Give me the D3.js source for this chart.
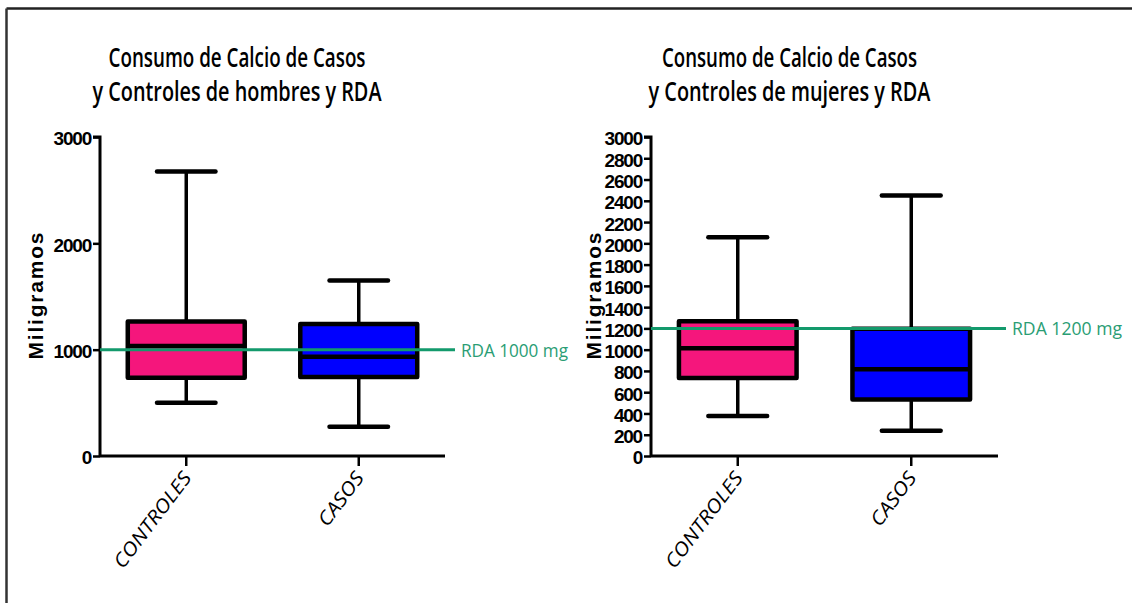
<!DOCTYPE html>
<html>
<head>
<meta charset="utf-8">
<script src="https://cdn.jsdelivr.net/npm/d3@7"></script>
<style>
  html, body { margin: 0; padding: 0; background: #fff; }
  svg { display: block; }
</style>
</head>
<body>
<svg id="chart" width="1132" height="603"></svg>
<script>
// ---- data ----
const groups = ["CONTROLES", "CASOS"];
const titlesHombres = ["Consumo de Calcio de Casos", "y Controles de hombres y RDA"];
const titlesMujeres = ["Consumo de Calcio de Casos", "y Controles de mujeres y RDA"];
const yLabel = "Miligramos";

// hombres
const hMin    = [501, 276];
const hQ1     = [735, 743];
const hMedian = [1035, 934];
const hQ3     = [1265, 1241];
const hMax    = [2675, 1650];
const hRDA = 1000;
const hRDALabel = "RDA 1000 mg";
const hTicks = [0, 1000, 2000, 3000];

// mujeres
const mMin    = [376, 238];
const mQ1     = [734, 532];
const mMedian = [1013, 815];
const mQ3     = [1267, 1197];
const mMax    = [2057, 2449];
const mRDA = 1200;
const mRDALabel = "RDA 1200 mg";
const mTicks = [0, 200, 400, 600, 800, 1000, 1200, 1400, 1600, 1800, 2000, 2200, 2400, 2600, 2800, 3000];

const fills = ["#f5167c", "#0000ff"];
const green = "#139a6c";

const svg = d3.select("#chart");

// frame
svg.append("line").attr("x1", 6.5).attr("x2", 1132).attr("y1", 8.5).attr("y2", 8.5)
  .attr("stroke", "#222").attr("stroke-width", 2.5);
svg.append("line").attr("x1", 6.5).attr("x2", 6.5).attr("y1", 8.5).attr("y2", 603)
  .attr("stroke", "#333").attr("stroke-width", 2.5);

function panel(cfg) {
  const x = d3.scaleBand().domain(groups).range(cfg.xRange).paddingInner(0).paddingOuter(0);
  const y = d3.scaleLinear().domain([0, 3000]).range([456, 137]);
  const g = svg.append("g");

  // titles
  cfg.titles.forEach((t, i) => {
    g.append("text")
      .attr("x", cfg.titleX).attr("y", 67 + i * 34)
      .attr("text-anchor", "middle")
      .attr("font-family", "'Open Sans', sans-serif")
      .attr("font-weight", 600)
      .attr("font-size", 27)
      .attr("fill", "#000")
      .attr("textLength", cfg.titleLen[i])
      .attr("lengthAdjust", "spacingAndGlyphs")
      .text(t);
  });

  // y label
  g.append("text")
    .attr("transform", `translate(${cfg.yLabelX},296) rotate(-90)`)
    .attr("text-anchor", "middle")
    .attr("dy", "0.35em")
    .attr("font-family", "'Liberation Sans', Arial, sans-serif")
    .attr("font-weight", "bold")
    .attr("font-size", 21)
    .attr("textLength", 127)
    .attr("lengthAdjust", "spacing")
    .attr("fill", "#000")
    .text(yLabel);

  const bw = x.bandwidth() * 0.678;
  const cw = bw / 2;

  groups.forEach((grp, i) => {
    const cx = x(grp) + x.bandwidth() / 2;
    // whiskers
    g.append("line").attr("x1", cx).attr("x2", cx)
      .attr("y1", y(cfg.max[i])).attr("y2", y(cfg.q3[i]))
      .attr("stroke", "#000").attr("stroke-width", 3.5);
    g.append("line").attr("x1", cx).attr("x2", cx)
      .attr("y1", y(cfg.q1[i])).attr("y2", y(cfg.min[i]))
      .attr("stroke", "#000").attr("stroke-width", 3.5);
    // caps
    [cfg.max[i], cfg.min[i]].forEach(v => {
      g.append("line").attr("x1", cx - cw / 2).attr("x2", cx + cw / 2)
        .attr("y1", y(v)).attr("y2", y(v))
        .attr("stroke", "#000").attr("stroke-width", 4.5).attr("stroke-linecap", "round");
    });
    // box
    g.append("rect")
      .attr("x", cx - bw / 2).attr("width", bw)
      .attr("y", y(cfg.q3[i])).attr("height", y(cfg.q1[i]) - y(cfg.q3[i]))
      .attr("fill", fills[i]).attr("stroke", "#000").attr("stroke-width", 4.5)
      .attr("stroke-linejoin", "round");
    // median
    g.append("line").attr("x1", cx - bw / 2).attr("x2", cx + bw / 2)
      .attr("y1", y(cfg.median[i])).attr("y2", y(cfg.median[i]))
      .attr("stroke", "#000").attr("stroke-width", 4.5);
  });

  // axes
  const yAxis = d3.axisLeft(y).tickValues(cfg.ticks).tickSize(7).tickPadding(2).tickFormat(d3.format("d"));
  const ya = g.append("g").attr("transform", `translate(${cfg.xRange[0]},0)`).call(yAxis);
  ya.select(".domain").attr("stroke", "#000").attr("stroke-width", 3).attr("d", `M-7,137H0V456`);
  ya.selectAll(".tick line").attr("stroke", "#000").attr("stroke-width", 2.5);
  ya.selectAll(".tick text")
    .attr("font-family", "'Liberation Sans', Arial, sans-serif")
    .attr("font-weight", "bold")
    .attr("font-size", 19)
    .attr("letter-spacing", -1.2)
    .attr("fill", "#000")
    .attr("dy", "0.42em");

  const xAxis = d3.axisBottom(x).tickSize(10).tickFormat("");
  const xa = g.append("g").attr("transform", `translate(0,456)`).call(xAxis);
  xa.select(".domain").attr("stroke", "#000").attr("stroke-width", 3)
    .attr("d", `M${cfg.xRange[0]},0H${cfg.xRange[1]}`);
  xa.selectAll(".tick line").attr("stroke", "#000").attr("stroke-width", 2.5);

  // category labels
  groups.forEach(grp => {
    const cx = x(grp) + x.bandwidth() / 2;
    const t = g.append("text")
      .attr("transform", `translate(${cx + 6},${478}) rotate(-53)`)
      .attr("text-anchor", "end")
      .attr("font-family", "'Open Sans', sans-serif")
      .attr("font-style", "italic")
      .attr("font-weight", 500)
      .attr("font-size", 19)
      .attr("fill", "#000")
      .text(grp);
    const w = t.node().getComputedTextLength();
    t.attr("textLength", w * 1.14).attr("lengthAdjust", "spacingAndGlyphs");
  });

  // RDA line
  g.append("line")
    .attr("x1", cfg.xRange[0]).attr("x2", cfg.rdaEnd)
    .attr("y1", y(cfg.rda)).attr("y2", y(cfg.rda))
    .attr("stroke", green).attr("stroke-width", 3);
  g.append("text")
    .attr("x", cfg.rdaEnd + 6).attr("y", y(cfg.rda) + 7)
    .attr("font-family", "'Open Sans', sans-serif")
    .attr("font-size", 18)
    .attr("fill", "#2a9d74")
    .attr("textLength", cfg.rdaLen)
    .attr("lengthAdjust", "spacingAndGlyphs")
    .text(cfg.rdaLabel);
}

panel({
  xRange: [100, 445], titles: titlesHombres, titleX: 237, titleLen: [257, 289],
  yLabelX: 36, min: hMin, q1: hQ1, median: hMedian, q3: hQ3, max: hMax,
  ticks: hTicks, rda: hRDA, rdaLabel: hRDALabel, rdaEnd: 455, rdaLen: 107
});
panel({
  xRange: [651, 998], titles: titlesMujeres, titleX: 789.5, titleLen: [255, 282],
  yLabelX: 594, min: mMin, q1: mQ1, median: mMedian, q3: mQ3, max: mMax,
  ticks: mTicks, rda: mRDA, rdaLabel: mRDALabel, rdaEnd: 1006, rdaLen: 110
});
</script>
</body>
</html>
